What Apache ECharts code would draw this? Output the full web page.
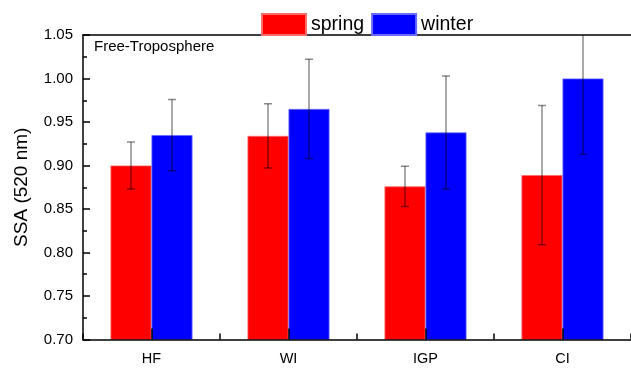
<!DOCTYPE html>
<html><head><meta charset="utf-8">
<script src="https://cdn.jsdelivr.net/npm/echarts@6/dist/echarts.min.js"></script>
<style>html,body{margin:0;padding:0;background:#fff}#c{width:631px;height:372px}</style>
</head><body><div id="c"></div>
<script>
var categories = ['HF', 'WI', 'IGP', 'CI'];
var spring = [0.900, 0.934, 0.876, 0.889];
var springErr = [0.027, 0.037, 0.023, 0.080];
var winter = [0.935, 0.965, 0.938, 1.000];
var winterErr = [0.041, 0.057, 0.065, 0.087];
var yTicks = [0.70, 0.75, 0.80, 0.85, 0.90, 0.95, 1.00, 1.05];

var FONT = 'Liberation Sans, Arial, sans-serif';
var BAR_W = 41;

function errData(vals, errs) {
  return vals.map(function (v, i) { return [i, v - errs[i], v + errs[i]]; });
}
function errRender(offset) {
  return function (params, api) {
    var i = api.value(0);
    var lo = api.coord([i, api.value(1)]);
    var hi = api.coord([i, api.value(2)]);
    var x = lo[0] + offset;
    var cap = 4;
    var style = { stroke: 'rgba(0,0,0,0.45)', lineWidth: 1.5 };
    return {
      type: 'group',
      children: [
        { type: 'line', shape: { x1: x, y1: hi[1], x2: x, y2: lo[1] }, style: style },
        { type: 'line', shape: { x1: x - cap, y1: hi[1], x2: x + cap, y2: hi[1] }, style: style },
        { type: 'line', shape: { x1: x - cap, y1: lo[1], x2: x + cap, y2: lo[1] }, style: style }
      ]
    };
  };
}

var chart = echarts.init(document.getElementById('c'), null, { renderer: 'canvas' });
chart.setOption({
  animation: false,
  textStyle: { fontFamily: FONT },
  legend: {
    top: 8, left: 256, icon: 'rect',
    itemWidth: 44, itemHeight: 21, itemGap: 7,
    textStyle: { fontSize: 19.5, color: '#000', fontFamily: FONT },
    data: ['spring', 'winter']
  },
  graphic: [{
    type: 'text', left: 94, top: 39,
    style: { text: 'Free-Troposphere', fontSize: 15, fill: '#000', fontFamily: FONT }
  }],
  grid: { left: 83, right: -2, top: 35, bottom: 32.5 },
  xAxis: [{
    type: 'category', data: categories, z: 10,
    axisLine: { lineStyle: { color: '#000', width: 1.5 } },
    axisTick: { show: true, inside: true, alignWithLabel: true, length: 11, lineStyle: { color: '#000', width: 1.5 } },
    axisLabel: { color: '#000', fontSize: 14.5, margin: 12, fontFamily: FONT },
    splitLine: { show: false }
  }, {
    type: 'value', min: 0, max: 4, interval: 1, position: 'bottom',
    axisLine: { show: false },
    axisTick: { show: true, inside: true, length: 6, lineStyle: { color: '#000', width: 1.5 } },
    axisLabel: { show: false }, splitLine: { show: false }
  }, {
    type: 'value', min: 0, max: 4, position: 'top',
    axisLine: { show: true, lineStyle: { color: '#000', width: 1.5 } },
    axisTick: { show: false }, axisLabel: { show: false }, splitLine: { show: false }
  }],
  yAxis: {
    type: 'value', min: yTicks[0], max: yTicks[yTicks.length - 1], interval: 0.05,
    name: 'SSA (520 nm)', nameLocation: 'middle', nameGap: 52,
    nameTextStyle: { fontSize: 19, color: '#000', fontFamily: FONT },
    axisLine: { show: true, lineStyle: { color: '#000', width: 1.5 } },
    axisTick: { show: true, inside: true, length: 7, lineStyle: { color: '#000', width: 1.5 } },
    minorTick: { show: true, splitNumber: 2, length: 4, lineStyle: { color: '#000', width: 1.5 } },
    axisLabel: { color: '#000', fontSize: 15, margin: 10, fontFamily: FONT,
      formatter: function (v) { return v.toFixed(2); } },
    splitLine: { show: false }
  },
  series: [{
    name: 'spring', type: 'bar', data: spring, barWidth: BAR_W, barGap: '0%',
    itemStyle: { color: '#ff0000', borderColor: '#ff6a6a', borderWidth: 0.8 }
  }, {
    name: 'winter', type: 'bar', data: winter, barWidth: BAR_W, barGap: '0%',
    itemStyle: { color: '#0000ff', borderColor: '#6a6aff', borderWidth: 0.8 }
  }, {
    type: 'custom', renderItem: errRender(-BAR_W / 2), data: errData(spring, springErr),
    encode: { x: 0, y: [1, 2] }, clip: true, z: 5
  }, {
    type: 'custom', renderItem: errRender(BAR_W / 2), data: errData(winter, winterErr),
    encode: { x: 0, y: [1, 2] }, clip: true, z: 5
  }]
});
</script></body></html>
